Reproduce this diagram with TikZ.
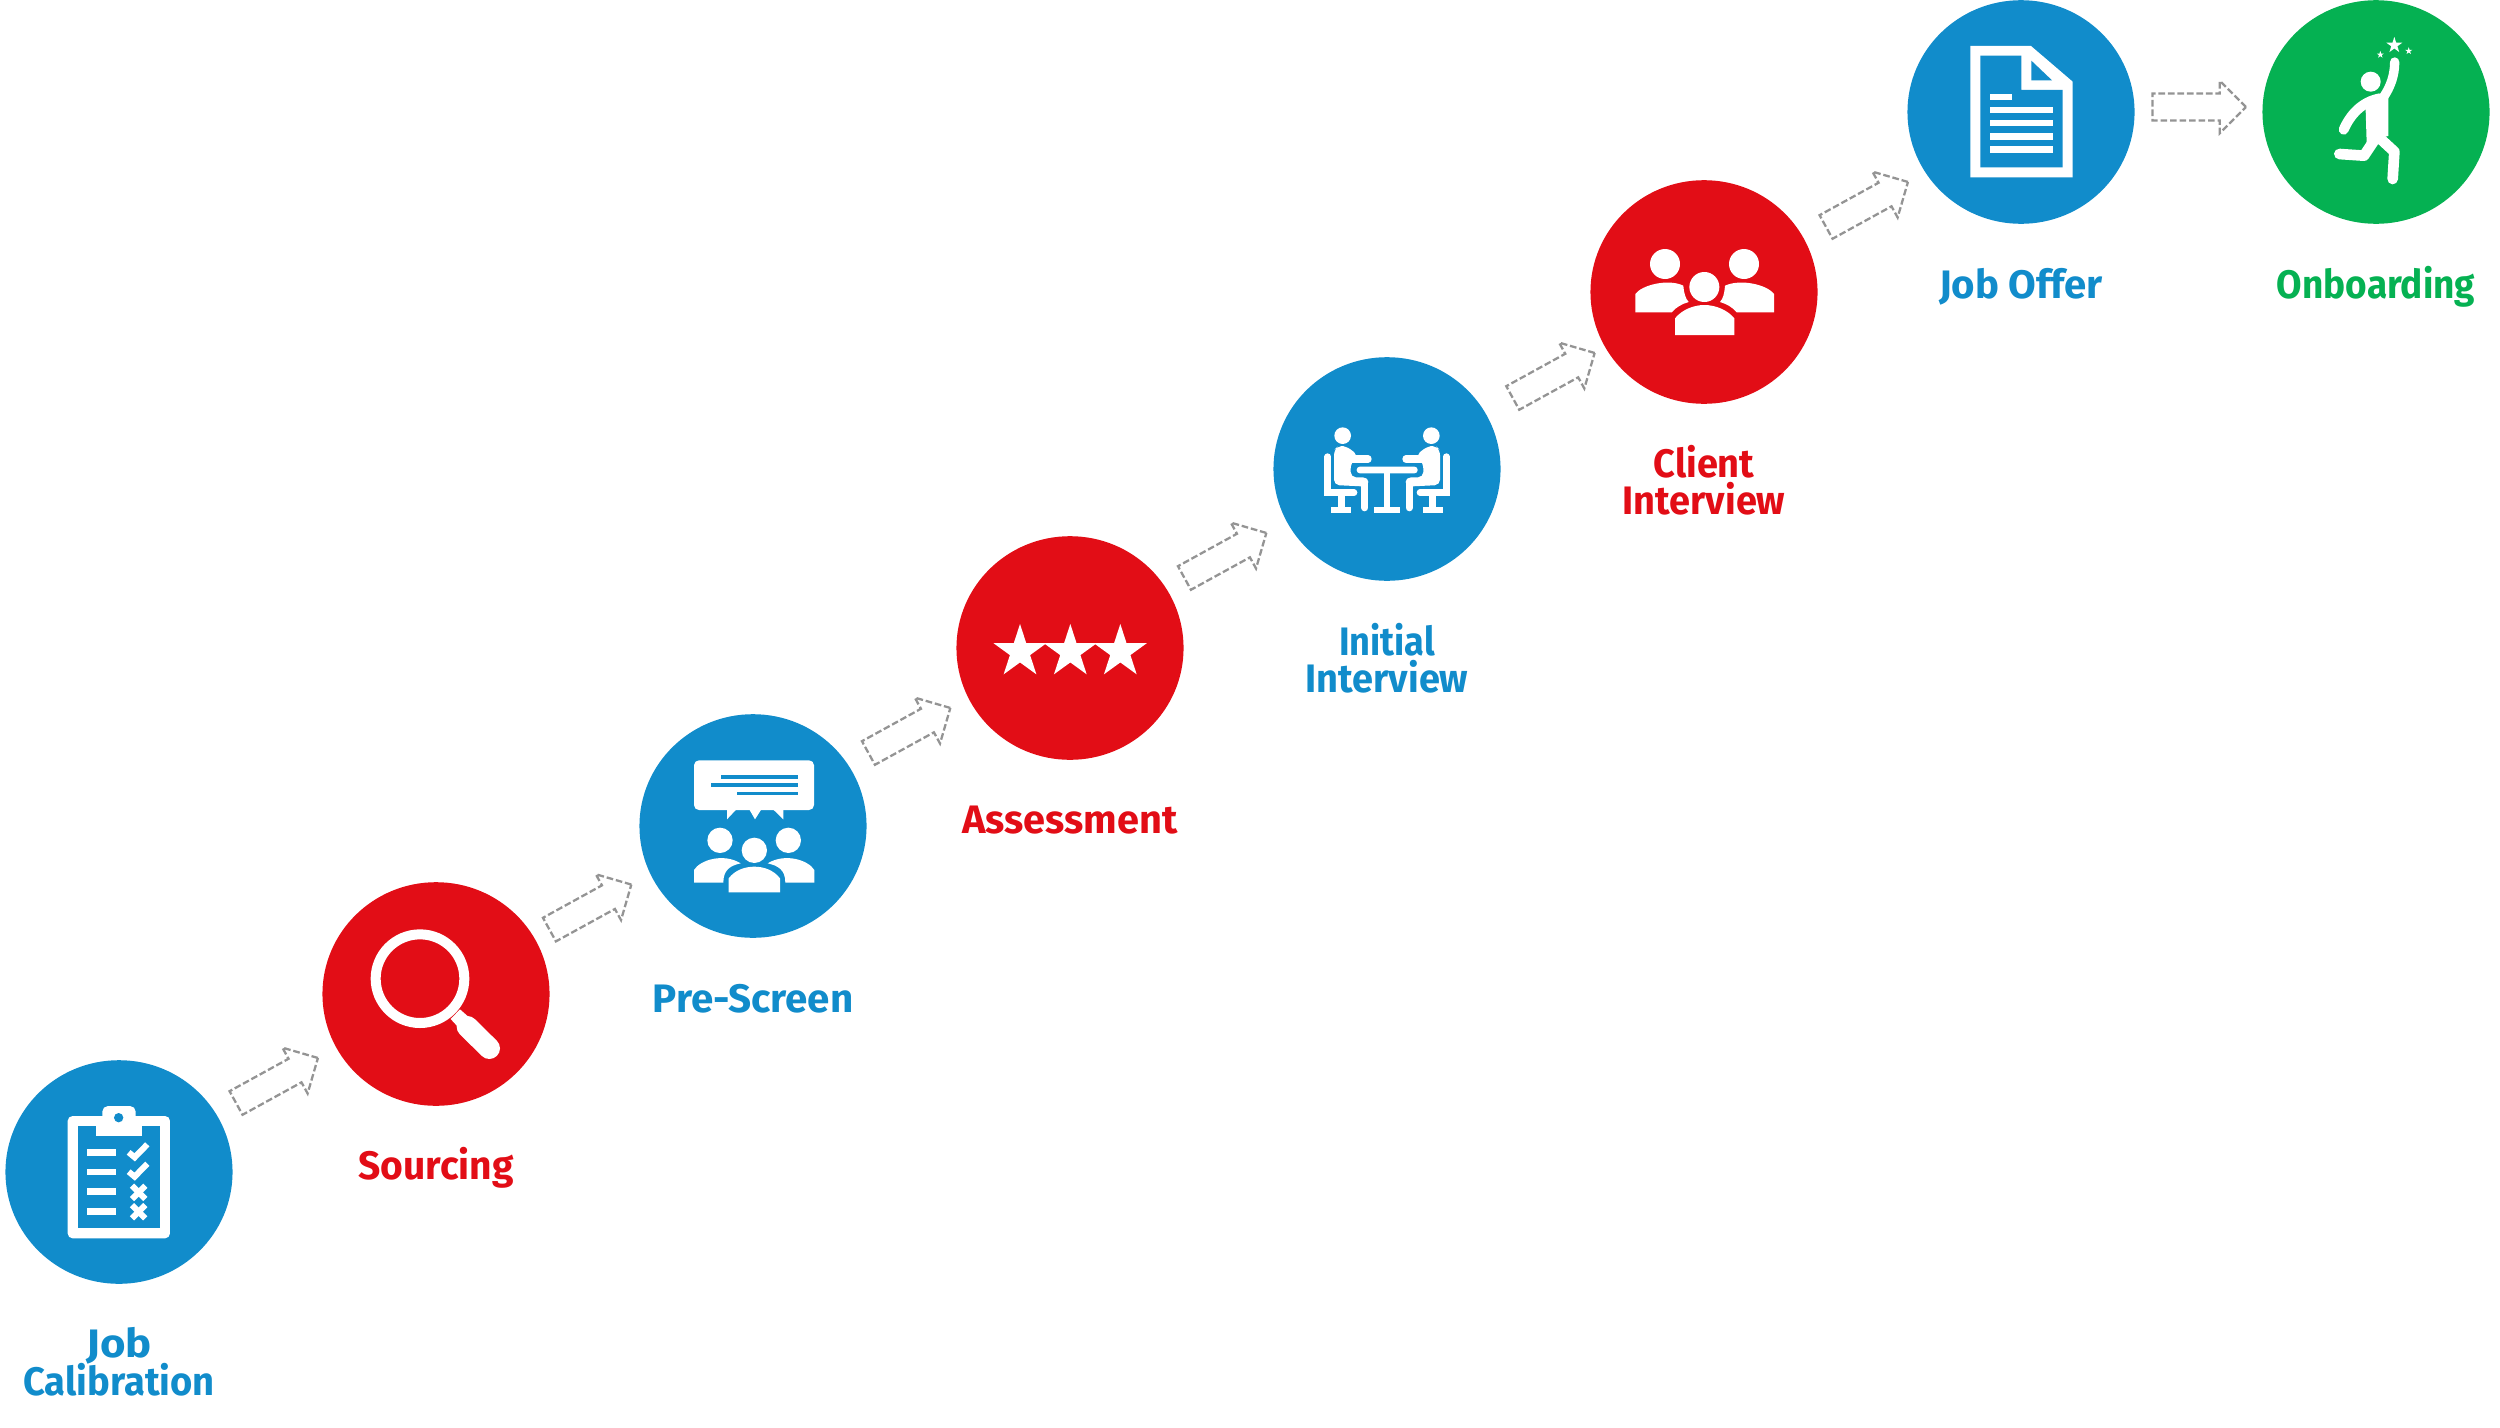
\documentclass[tikz,border=0pt]{standalone}
\usepackage{fontspec}
\setmainfont{Fira Sans}[UprightFont=* Bold,BoldFont=* Bold]
\usetikzlibrary{shapes.geometric,shapes.arrows}
\definecolor{jb}{HTML}{118CCB}
\definecolor{jr}{HTML}{E20D16}
\definecolor{jg}{HTML}{05B152}
\definecolor{jgray}{HTML}{949494}
\newcommand{\hs}[2]{\scalebox{#1}[1]{#2}}
\tikzset{
  stepcirc/.style={ellipse,inner sep=0pt,minimum width=2.27cm,minimum height=2.235cm,fill=#1},
  steplab/.style={text=#1,font=\fontsize{11.3}{10.5}\selectfont,align=center,inner sep=0pt,anchor=base},
  blockarrow/.style={single arrow,draw=jgray,line width=0.65pt,dash pattern=on 1.9pt off 0.8pt,
    minimum height=0.934cm,minimum width=0.5cm,inner sep=0pt,inner ysep=0.123cm,
    single arrow head extend=0.127cm,single arrow tip angle=90,shape border rotate=0,rotate=#1},
  wstar/.style={star,star points=5,star point ratio=2.618,fill=white,inner sep=0pt,minimum size=#1},
  zw/.style={line width=#1*0.0948pt},
  wline/.style={draw=white,zw=#1},
  zoomed/.style={shift={#1},scale=1/3},
}
\newcommand{\seatedperson}{%
  \fill[white] (248,257) circle[radius=25];
  \fill[white,rounded corners=1.5pt] (222,405) -- (222,300) -- (235,288) -- (258,288) -- (295,316) -- (272,340) -- (272,382) -- (325,382) -- (325,410) -- cycle;
  \draw[wline=22,line cap=round] (265,327) -- (324,327);
  \draw[wline=22,line cap=round] (314,395) -- (314,473);
  \draw[wline=20,line cap=round] (203,320) -- (203,428) -- (282,428);
  \fill[white] (235,436) rectangle (255,470);
  \fill[white] (213,470) rectangle (273,488);
}
\begin{document}
\begin{tikzpicture}[x=0.01cm,y=-0.01cm]
\useasboundingbox (0,0) rectangle (2500,1427);
% circles
\node[stepcirc=jb] (c1) at (119,1172) {};
\node[stepcirc=jr] (c2) at (436,994) {};
\node[stepcirc=jb] (c3) at (753,826) {};
\node[stepcirc=jr] (c4) at (1070,648) {};
\node[stepcirc=jb] (c5) at (1387,469) {};
\node[stepcirc=jr] (c6) at (1704,292) {};
\node[stepcirc=jb] (c7) at (2021,112) {};
\node[stepcirc=jg] (c8) at (2376,112) {};
% labels
\node[steplab=jb] (t1) at (119,1395) {\hs{1.1}{Job}\\[-1.36pt]\hs{.96}{Calibration}};
\node[steplab=jr] (t2) at (436,1179) {\hs{.98}{Sourcing}};
\node[steplab=jb] (t3) at (753,1012) {\hs{1.015}{Pre-Screen}};
\node[steplab=jr] (t4) at (1070,833) {Assessment};
\node[steplab=jb] (t5) at (1387,692) {\hs{.91}{Initial}\\\hs{.955}{Interview}};
\node[steplab=jr] (t6) at (1704,514) {\hs{.955}{Client}\\\hs{.955}{Interview}};
\node[steplab=jb] (t7) at (2021,298) {\hs{1.01}{Job Offer}};
\node[steplab=jg] (t8) at (2376,298) {\hs{.93}{Onboarding}};
% arrows
\node[blockarrow=28.8] (a1) at (271.1,1083.7) {};
\node[blockarrow=28.8] (a2) at (584.5,910.3) {};
\node[blockarrow=28.8] (a3) at (903.5,733.7) {};
\node[blockarrow=28.8] (a4) at (1219.5,558.7) {};
\node[blockarrow=28.8] (a5) at (1547.8,378.7) {};
\node[blockarrow=28.8] (a6) at (1861.1,207.7) {};
\node[blockarrow=0] (a7) at (2192.5,107) {};
% clipboard
\begin{scope}[zoomed={(0,1040)}]
  \fill[white,rounded corners=1.4pt] (203,228) rectangle (510,595);
  \fill[jb] (233,258) rectangle (480,565);
  \fill[white] (287,250) rectangle (426,288);
  \fill[white,rounded corners=1.6pt] (307,198) rectangle (407,260);
  \fill[jb] (356,233) circle[radius=14];
  \foreach \yy in {327,386,445,504} \fill[white] (262,\yy) rectangle (347,\yy+20);
  \foreach \yy in {0,58} \draw[wline=18] (386,337+\yy) -- (404,352+\yy) -- (442,313+\yy);
  \foreach \yy in {457,515} {
    \draw[wline=18] (396,\yy-20) -- (436,\yy+20);
    \draw[wline=18] (396,\yy+20) -- (436,\yy-20);
  }
\end{scope}
% magnifier
\begin{scope}[zoomed={(220,870)}]
  \draw[wline=30] (600,326) circle[radius=133];
  \fill[white] (720,418) -- (692,447) -- (715,472) -- (745,440) -- cycle;
  \draw[wline=64,line cap=round] (742,470) -- (808,535);
\end{scope}
% chat group
\begin{scope}[zoomed={(620,700)}]
  \fill[white,rounded corners=1.4pt] (222,181) rectangle (582,330);
  \fill[white] (321,325) -- (321,358) -- (352,325) -- cycle;
  \fill[white] (386,325) -- (405,358) -- (426,325) -- cycle;
  \fill[white] (456,325) -- (490,358) -- (490,325) -- cycle;
  \fill[jb] (302,226) rectangle (533,236);
  \fill[jb] (272,250) rectangle (533,260);
  \fill[jb] (351,275) rectangle (533,285);
  \fill[white] (300,421) circle[radius=38];
  \fill[white] (505,421) circle[radius=38];
  \fill[white] (403,451) circle[radius=38];
  \fill[white] (326,577) -- (326,535) .. controls (345,510) and (375,500) .. (403,500) .. controls (431,500) and (461,510) .. (480,535) -- (480,577) -- cycle;
  \fill[white] (222,548) -- (222,510) .. controls (240,480) and (310,458) .. (362,490) .. controls (330,497) and (310,510) .. (310,548) -- cycle;
  \fill[white] (583,548) -- (583,510) .. controls (565,480) and (495,458) .. (443,490) .. controls (475,497) and (496,510) .. (496,548) -- cycle;
\end{scope}
% three stars
\node[wstar=0.556cm] (s1) at (1020,651.8) {};
\node[wstar=0.556cm] (s2) at (1070.3,651.8) {};
\node[wstar=0.556cm] (s3) at (1120.3,651.8) {};
% interview table
\begin{scope}[zoomed={(1260,350)}]
  \fill[white,rounded corners=0.9pt] (290,350) rectangle (473,370);
  \fill[white] (371,365) rectangle (391,472);
  \fill[white] (342,470) rectangle (421,488);
  \seatedperson
  \begin{scope}[shift={(762,0)},xscale=-1]
    \seatedperson
  \end{scope}
\end{scope}
% client group
\begin{scope}[zoomed={(1580,170)}]
  \fill[white] (255,282) circle[radius=45];
  \fill[white] (492,282) circle[radius=45];
  \fill[white] (373,351) circle[radius=45];
  \fill[white] (285,495) -- (285,445) .. controls (305,420) and (340,405) .. (373,405) .. controls (406,405) and (443,420) .. (463,445) -- (463,495) -- cycle;
  \fill[white] (166,427) -- (166,372) .. controls (185,345) and (265,325) .. (310,347) .. controls (312,370) and (316,385) .. (326,396) .. controls (305,402) and (288,412) .. (275,427) -- cycle;
  \fill[white] (582,427) -- (582,372) .. controls (563,345) and (483,325) .. (435,347) .. controls (433,370) and (430,385) .. (420,396) .. controls (440,402) and (458,412) .. (470,427) -- cycle;
\end{scope}
% document
\begin{scope}[zoomed={(1900,0)}]
  \fill[white] (211,138) -- (393,138) -- (518,245) -- (518,532) -- (211,532) -- cycle;
  \fill[jb] (241,167) -- (364,167) -- (364,270) -- (488,270) -- (488,502) -- (241,502) -- cycle;
  \fill[jb] (394,182) -- (394,241) -- (456,241) -- cycle;
  \fill[white] (270,281) rectangle (335,301);
  \foreach \yy in {320,359,399,438} \fill[white] (270,\yy) rectangle (459,\yy+20);
\end{scope}
% jumping person
\begin{scope}[zoomed={(2140,0)}]
  \fill[white] (692,245) circle[radius=30];
  \fill[white] (676,300) -- (745,285) -- (745,408) -- (712,415) -- (680,430) -- cycle;
  \draw[wline=28,line cap=round] (764,186) .. controls (764,225) and (752,260) .. (730,292);
  \draw[wline=30,line cap=round] (611,389) .. controls (630,345) and (665,305) .. (720,295);
  \draw[wline=32,line join=round,line cap=round] (725,420) -- (763,455) -- (758,537);
  \draw[wline=32,line join=round,line cap=round] (700,425) -- (672,467) -- (598,462);
\end{scope}
\node[wstar=0.167cm] (s4) at (2394.3,45.3) {};
\node[wstar=0.075cm] (s5) at (2380.3,54.7) {};
\node[wstar=0.075cm] (s6) at (2408.7,51) {};
\end{tikzpicture}
\end{document}
